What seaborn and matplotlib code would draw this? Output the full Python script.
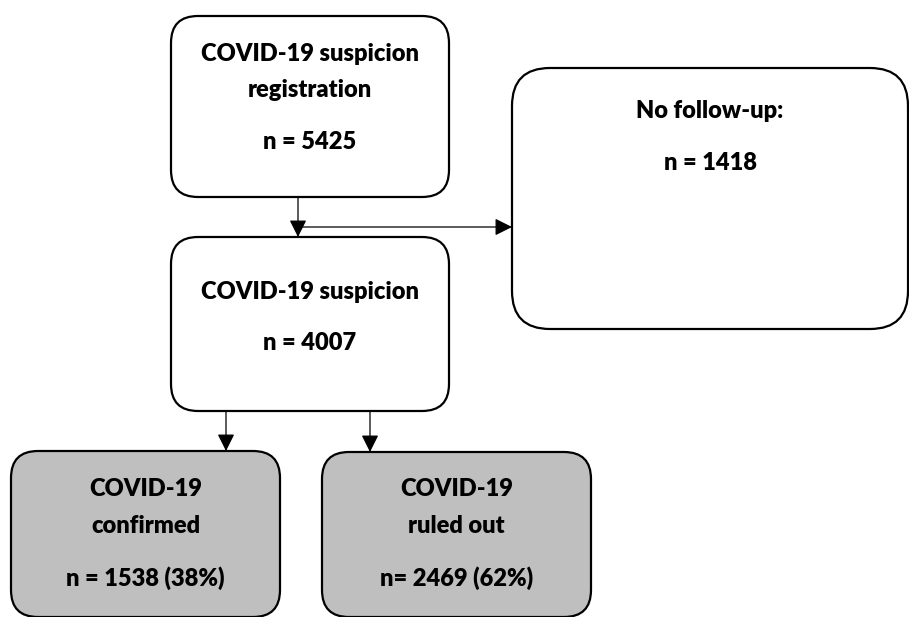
import seaborn as sns
import matplotlib.pyplot as plt
from matplotlib.patches import FancyBboxPatch

# Données du diagramme
etapes = ["COVID-19 suspicion\nregistration", "No follow-up:", "COVID-19 suspicion",
          "COVID-19\nconfirmed", "COVID-19\nruled out"]
effectifs = [5425, 1418, 4007, 1538, 2469]
pourcentages = [None, None, None, 38, 62]
prefixes = ["n = ", "n = ", "n = ", "n = ", "n= "]
remplissage = ["white", "white", "white", "#BFBFBF", "#BFBFBF"]

# Mise en page (pixels) : x0, y0, x1, y1, rayon des coins
boites = [
    (171, 16, 449, 197, 27),
    (512, 68, 908, 329, 38),
    (171, 237, 449, 411, 27),
    (11, 451, 280, 617, 27),
    (322, 452, 591, 617, 27),
]
# position verticale des lignes de texte : titre(s), puis n
lignes_y = [
    ([54, 90], 142),
    ([111], 163),
    ([292], 343),
    ([489, 526], 578),
    ([489, 526], 578),
]

sns.set_theme(style="white")
plt.rcParams['font.family'] = ['Lato', 'DejaVu Sans']

fig = plt.figure(figsize=(9.09, 6.17), dpi=100)
ax = fig.add_axes([0, 0, 1, 1])
ax.set_xlim(0, 909)
ax.set_ylim(617, 0)
ax.axis('off')

taille = 17
for i, (x0, y0, x1, y1, r) in enumerate(boites):
    patch = FancyBboxPatch((x0, y0), x1 - x0, y1 - y0,
                           boxstyle=f"round,pad=0,rounding_size={r}",
                           facecolor=remplissage[i], edgecolor="black", linewidth=1.6)
    ax.add_patch(patch)
    xc = (x0 + x1) / 2
    titres, y_n = lignes_y[i]
    for ligne, y in zip(etapes[i].split("\n"), titres):
        ax.text(xc, y, ligne, ha='center', va='center', fontsize=taille, fontweight='heavy', color='black')
    txt_n = f"{prefixes[i]}{effectifs[i]}"
    if pourcentages[i] is not None:
        txt_n += f" ({pourcentages[i]}%)"
    ax.text(xc, y_n, txt_n, ha='center', va='center', fontsize=taille, fontweight='heavy', color='black')

# Flèches
style = dict(arrowstyle='-|>,head_length=0.4,head_width=0.2', color='black', lw=0.9,
             mutation_scale=26, shrinkA=0, shrinkB=0)
ax.annotate("", xy=(298, 237), xytext=(298, 197), arrowprops=style)
ax.annotate("", xy=(512, 227), xytext=(298, 227), arrowprops=style)
ax.annotate("", xy=(226, 451), xytext=(226, 411), arrowprops=style)
ax.annotate("", xy=(370, 452), xytext=(370, 411), arrowprops=style)

plt.savefig("out.png", dpi=100)
